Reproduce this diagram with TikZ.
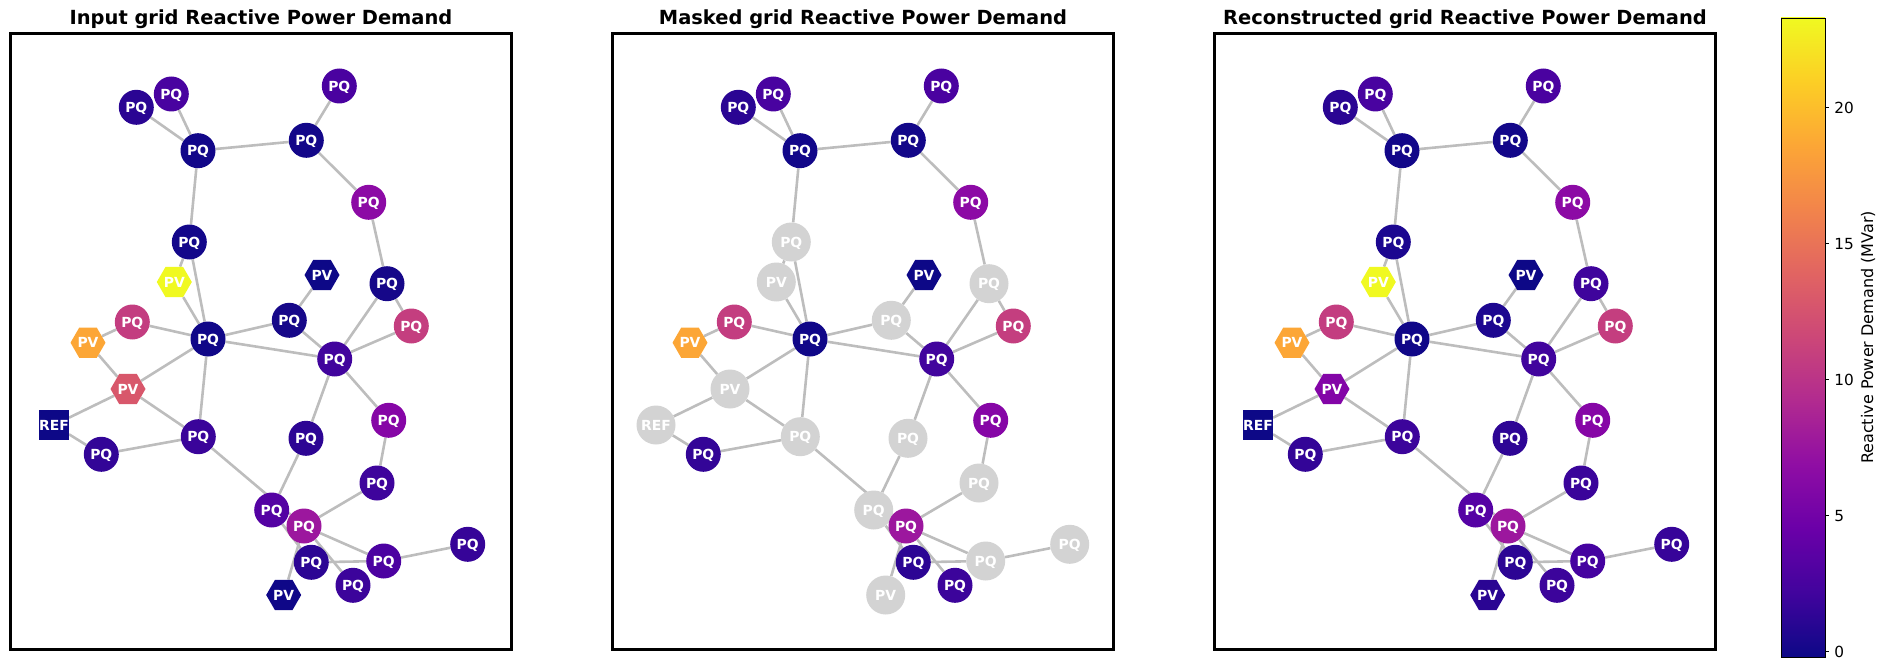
\documentclass[tikz,border=0pt]{standalone}
\usepackage{fontspec}
\setmainfont{DejaVu Sans}
\usetikzlibrary{shapes.geometric}
\pgfdeclarelayer{bg}
\pgfsetlayers{bg,main}

% plasma colormap stops
\definecolor{pl0}{HTML}{0D0887}
\definecolor{pl1}{HTML}{41049D}
\definecolor{pl2}{HTML}{6A00A8}
\definecolor{pl3}{HTML}{8F0DA4}
\definecolor{pl4}{HTML}{B12A90}
\definecolor{pl5}{HTML}{CC4778}
\definecolor{pl6}{HTML}{E16462}
\definecolor{pl7}{HTML}{F2844B}
\definecolor{pl8}{HTML}{FCA636}
\definecolor{pl9}{HTML}{FCCE25}
\definecolor{pl10}{HTML}{F0F921}
\pgfdeclareverticalshading{plasmabar}{100bp}{color(0bp)=(pl0); color(25bp)=(pl0); color(30bp)=(pl1); color(35bp)=(pl2); color(40bp)=(pl3); color(45bp)=(pl4); color(50bp)=(pl5); color(55bp)=(pl6); color(60bp)=(pl7); color(65bp)=(pl8); color(70bp)=(pl9); color(75bp)=(pl10); color(100bp)=(pl10)}

\definecolor{edgegray}{HTML}{BDBDBD}
\definecolor{maskgray}{HTML}{D3D3D3}

% input colours
\definecolor{c1A}{HTML}{2A0593}\definecolor{c1B}{HTML}{4903A0}\definecolor{c1C}{HTML}{120789}
\definecolor{c1D}{HTML}{130789}\definecolor{c1E}{HTML}{4A02A0}\definecolor{c1F}{HTML}{8C0AA5}
\definecolor{c1G}{HTML}{13078A}\definecolor{c1H}{HTML}{F0F921}\definecolor{c1I}{HTML}{0D0887}
\definecolor{c1J}{HTML}{160789}\definecolor{c1K}{HTML}{C33D80}\definecolor{c1L}{HTML}{170889}
\definecolor{c1M}{HTML}{C43E7F}\definecolor{c1N}{HTML}{100788}\definecolor{c1O}{HTML}{FCA636}
\definecolor{c1P}{HTML}{41049D}\definecolor{c1Q}{HTML}{D8576B}\definecolor{c1R}{HTML}{0D0887}
\definecolor{c1S}{HTML}{3A049A}\definecolor{c1T}{HTML}{330597}\definecolor{c1U}{HTML}{2D0594}
\definecolor{c1V}{HTML}{8606A6}\definecolor{c1W}{HTML}{3E049C}\definecolor{c1X}{HTML}{5402A3}
\definecolor{c1Y}{HTML}{9C179E}\definecolor{c1Z}{HTML}{360498}\definecolor{c1AA}{HTML}{2C0594}
\definecolor{c1AB}{HTML}{4C02A1}\definecolor{c1AC}{HTML}{3C049B}\definecolor{c1AD}{HTML}{0F0788}
% reconstructed colours
\definecolor{c3A}{HTML}{2A0593}\definecolor{c3B}{HTML}{4903A0}\definecolor{c3C}{HTML}{120789}
\definecolor{c3D}{HTML}{130789}\definecolor{c3E}{HTML}{4A02A0}\definecolor{c3F}{HTML}{8C0AA5}
\definecolor{c3G}{HTML}{1C0790}\definecolor{c3H}{HTML}{F0F921}\definecolor{c3I}{HTML}{0D0887}
\definecolor{c3J}{HTML}{3F049C}\definecolor{c3K}{HTML}{C33D80}\definecolor{c3L}{HTML}{1D0790}
\definecolor{c3M}{HTML}{C43E7F}\definecolor{c3N}{HTML}{100788}\definecolor{c3O}{HTML}{FCA636}
\definecolor{c3P}{HTML}{41049D}\definecolor{c3Q}{HTML}{8305A7}\definecolor{c3R}{HTML}{0D0887}
\definecolor{c3S}{HTML}{3C049B}\definecolor{c3T}{HTML}{330597}\definecolor{c3U}{HTML}{2E0595}
\definecolor{c3V}{HTML}{8606A6}\definecolor{c3W}{HTML}{3A049A}\definecolor{c3X}{HTML}{5502A4}
\definecolor{c3Y}{HTML}{9C179E}\definecolor{c3Z}{HTML}{370499}\definecolor{c3AA}{HTML}{2C0594}
\definecolor{c3AB}{HTML}{4502A0}\definecolor{c3AC}{HTML}{3C049B}\definecolor{c3AD}{HTML}{2A0593}

\newcommand\nodefont{\fontsize{13.9}{14}\selectfont\bfseries}
\newcommand\titlefont{\fontsize{19.44}{23}\selectfont\bfseries}
\newcommand\tickfont{\fontsize{15.3}{18}\selectfont}
\newcommand\cbfont{\fontsize{16}{19}\selectfont}

\def\labnodepq{PQ}
\def\labnodepv{PV}
\def\labnoderef{REF}

\newcommand\setmask[1]{\expandafter\def\csname mask2#1\endcsname{}}
\setmask{G}\setmask{H}\setmask{L}\setmask{J}\setmask{Q}\setmask{R}\setmask{S}
\setmask{U}\setmask{W}\setmask{X}\setmask{AB}\setmask{Z}\setmask{AD}

\def\gridnodes{A/136.3/107.3/nodepq,B/171.3/94/nodepq,C/198/150.7/nodepq,D/306.3/140.3/nodepq,E/339.3/86/nodepq,F/368.7/202.3/nodepq,G/189.3/242/nodepq,H/174.3/282/nodepv,I/322/275/nodepv,J/387/283.7/nodepq,K/132.3/322/nodepq,L/289.3/320.3/nodepq,M/411.3/326/nodepq,N/208/339/nodepq,O/88/342.7/nodepv,P/334.7/359/nodepq,Q/128/389/nodepv,R/54/425/noderef,S/198.3/436.7/nodepq,T/101.3/454.3/nodepq,U/306/438.3/nodepq,V/388.7/420.3/nodepq,W/377/483/nodepq,X/271.7/510/nodepq,Y/304/526/nodepq,Z/467.7/544.3/nodepq,AA/311.3/562.3/nodepq,AB/383.7/561/nodepq,AC/353/585.3/nodepq,AD/283.7/595/nodepv}

\def\gridedges{A/C,B/C,C/D,D/E,D/F,C/G,G/H,G/N,H/N,F/J,I/L,J/M,J/P,K/N,L/N,L/P,M/P,N/P,O/K,O/Q,Q/N,Q/R,Q/S,N/S,R/T,T/S,P/U,P/V,S/Y,U/X,V/W,W/Y,Y/AB,Y/AC,AA/AB,AB/Z,AD/Y,X/AA}

\tikzset{
  lab/.style={text=white, font=\nodefont, text height=10.1pt, text depth=0pt, inner sep=0pt},
  nodepq/.style={lab, circle, minimum size=35pt},
  nodepv/.style={lab, regular polygon, regular polygon sides=6, minimum size=35pt},
  noderef/.style={lab, rectangle, minimum size=29.5pt},
  masked/.style={circle, minimum size=39pt, fill=maskgray},
  edge/.style={draw=edgegray, line width=2.6pt},
  frame/.style={draw=black, line width=2.6pt, inner sep=0pt, minimum width=501.4pt, minimum height=616pt},
  title/.style={font=\titlefont, anchor=base, inner sep=0pt},
}

\newcommand\drawpanel[3]{%
  \foreach \nm/\px/\py/\ty in \gridnodes {
    \ifcsname mask#1\nm\endcsname\def\extra{masked}\else\def\extra{}\fi
    \node[\ty, fill=#3\nm, \extra] (g#1\nm) at (\px+#2,\py) {\csname lab\ty\endcsname};
  }
  \begin{pgfonlayer}{bg}
    \foreach \ea/\eb in \gridedges { \draw[edge] (g#1\ea) -- (g#1\eb); }
  \end{pgfonlayer}
}

\begin{document}
\begin{tikzpicture}[x=1pt,y=-1pt]
\useasboundingbox (0,0) rectangle (1889,671);

% axes frames
\node[frame] (ax1) at (261,341.3) {};
\node[frame] (ax2) at (863,341.3) {};
\node[frame] (ax3) at (1465,341.3) {};

% titles
\node[title] (t1) at (261,25) {Input grid Reactive Power Demand};
\node[title] (t2) at (863,25) {Masked grid Reactive Power Demand};
\node[title] (t3) at (1465,25) {Reconstructed grid Reactive Power Demand};

% panels
\drawpanel{1}{0}{c1}
\drawpanel{2}{602}{c1}
\drawpanel{3}{1204}{c3}

% colorbar
\node[shading=plasmabar, draw=black, line width=0.8pt, inner sep=0pt, minimum width=44pt, minimum height=639pt] (cbar) at (1803,337.5) {};
\foreach \v/\yy in {0/651.5,5/515.6,10/379.7,15/243.7,20/107.8} {
  \draw[line width=0.8pt] (1825,\yy) -- (1829,\yy) node[anchor=west, inner sep=0pt, xshift=5pt, font=\tickfont] (tick\v) {\v};
}
\node[rotate=90, font=\cbfont, inner sep=0pt] (cblabel) at (1868,337.5) {Reactive Power Demand (MVar)};
\end{tikzpicture}
\end{document}
